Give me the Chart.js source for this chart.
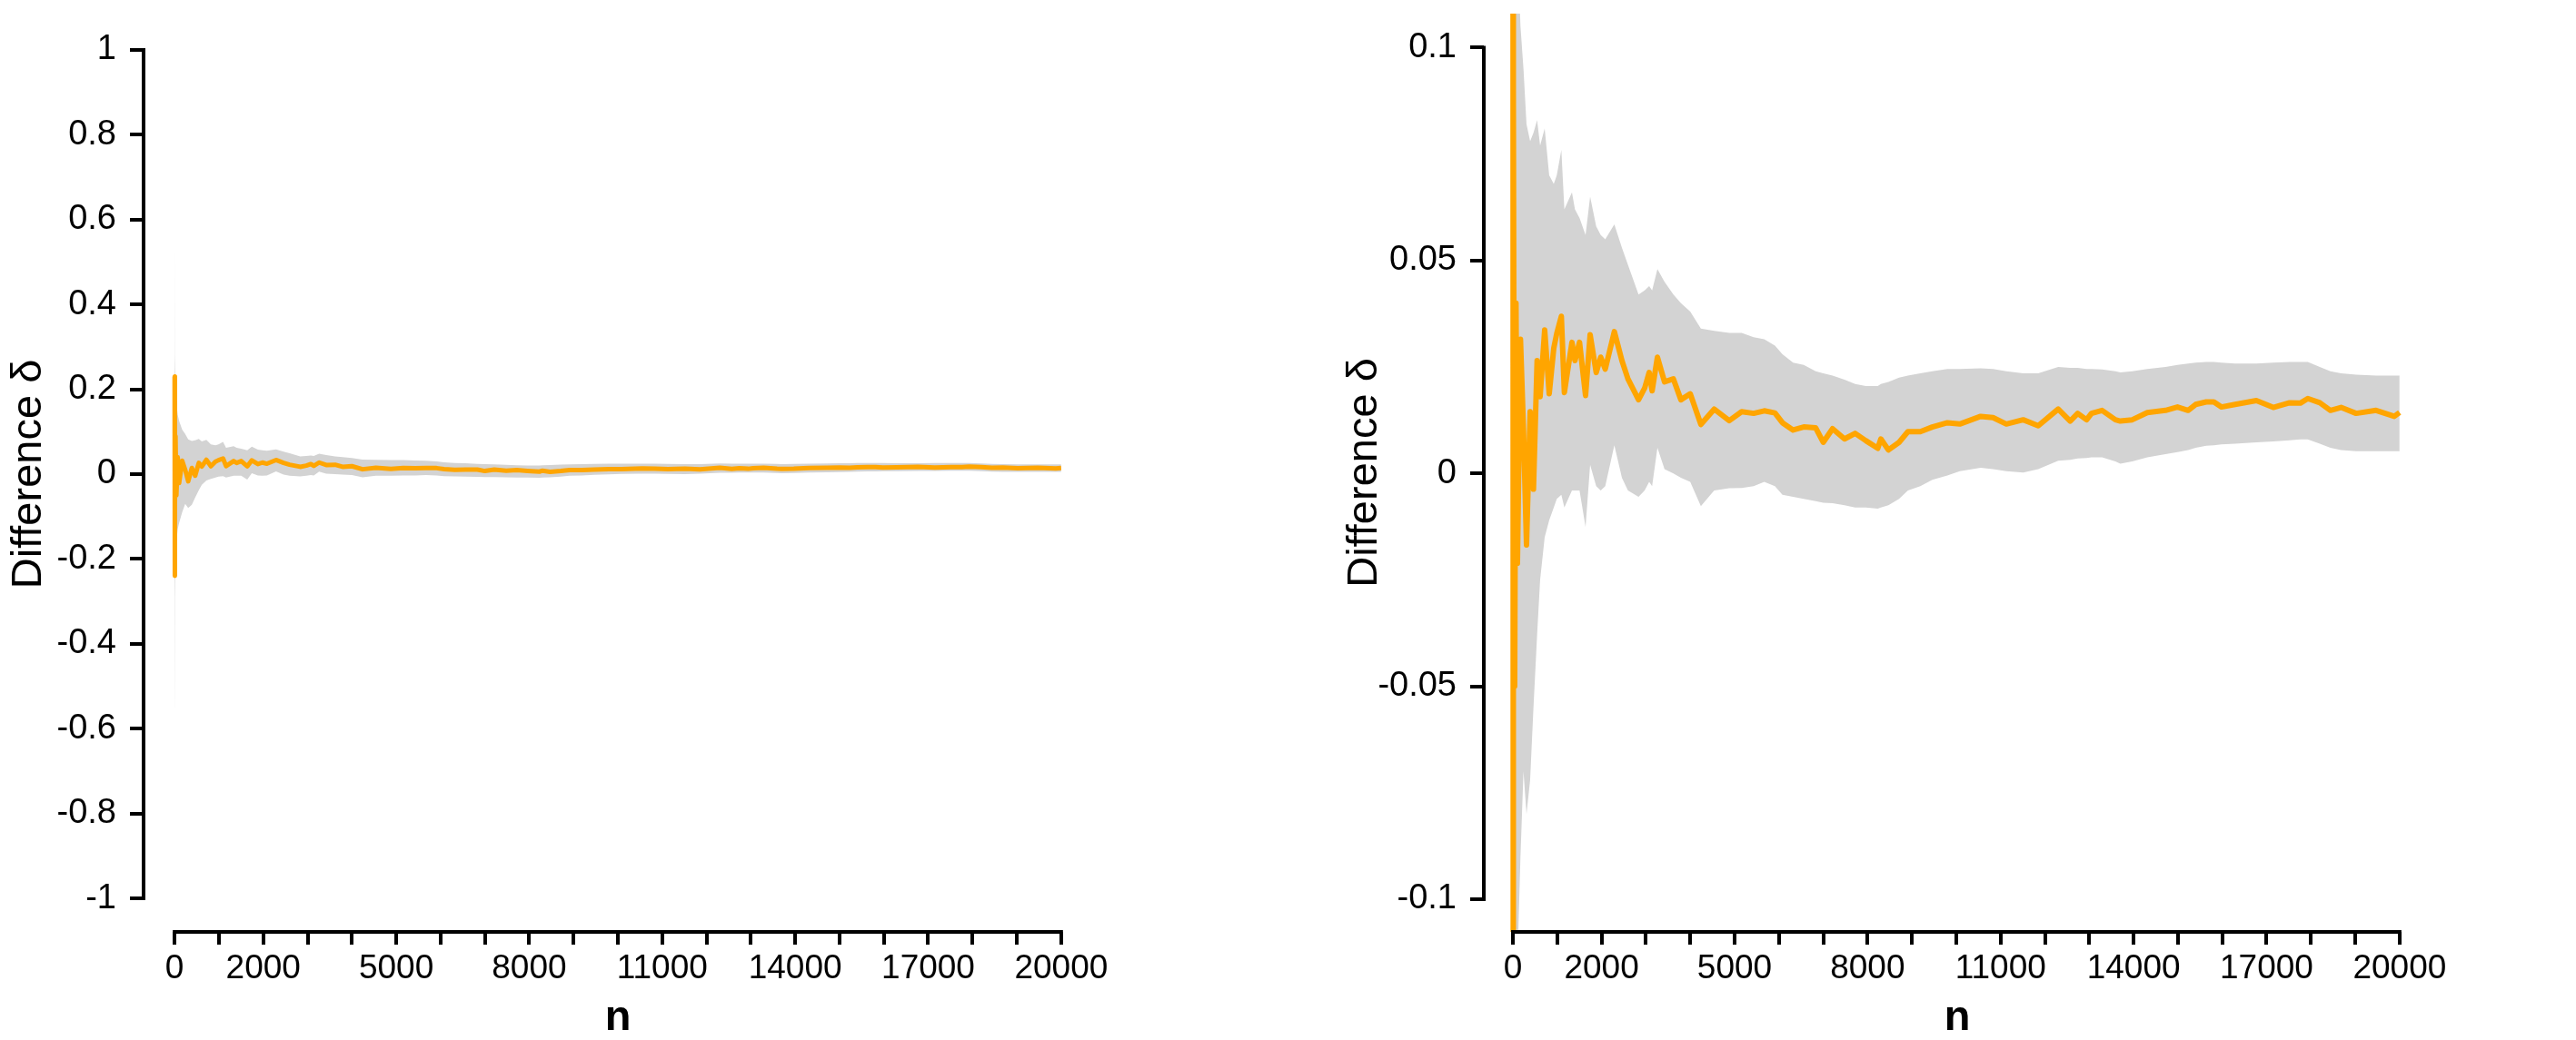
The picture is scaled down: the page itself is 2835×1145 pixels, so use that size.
<!DOCTYPE html>
<html>
<head>
<meta charset="utf-8">
<script src="https://cdn.jsdelivr.net/npm/chart.js@4/dist/chart.umd.min.js"></script>
<style>
  body { margin: 0; background: #fff; }
  canvas { position: absolute; top: 0; }
  #left { left: 0; }
  #right { left: 1417px; }
</style>
</head>
<body>
<canvas id="left" width="1417" height="1145"></canvas>
<canvas id="right" width="1418" height="1145"></canvas>
<script>
"use strict";

// sample size n
const nVals = [1, 3, 6, 10, 20, 40, 70, 102, 171, 239, 307, 389, 464, 546, 614, 717, 819, 922, 990, 1093,
  1161, 1332, 1400, 1503, 1639, 1742, 1879, 1981, 2083, 2288, 2459, 2595, 2834, 2971, 3074,
  3140, 3260, 3420, 3620, 3790, 4000, 4240, 4540, 4880, 5160, 5430, 5670, 5910, 6080, 6320, 6560, 6830,
  7000, 7210, 7480, 7720, 7960, 8230, 8300, 8470, 8710, 8910, 9190, 9460, 9800, 10080, 10550, 10830,
  11130, 11510, 11850, 12300, 12570, 12740, 12940, 13050, 13290, 13590, 13700, 13970, 14310, 14720,
  14990, 15230, 15400, 15640, 15810, 15980, 16290, 16770, 17150, 17520, 17760, 17930, 18200, 18440,
  18680, 19020, 19470, 19880, 20000];

// difference delta
const deltaVals = [0.23, -0.24, 0.12, -0.08, 0.09, -0.05, 0.04, -0.0211, 0.0315, 0.0102, -0.0168, 0.0145,
  -0.0037, 0.0265, 0.018, 0.0337, 0.0187, 0.0294, 0.0329, 0.0369, 0.019, 0.0308, 0.0265, 0.0308, 0.0183,
  0.0326, 0.0237, 0.0273, 0.0245, 0.0333, 0.0265, 0.0222, 0.0173, 0.02, 0.0237,
  0.0194, 0.0273, 0.0215, 0.0222, 0.0173, 0.0187, 0.0115, 0.0151, 0.0124, 0.0145, 0.0141, 0.0147, 0.0142,
  0.0119, 0.0102, 0.0109, 0.0107, 0.0073, 0.0105, 0.0081, 0.0094, 0.0077, 0.0059, 0.0081, 0.0055, 0.0073,
  0.0098, 0.0098, 0.0109, 0.0119, 0.0116, 0.0134, 0.0131, 0.0116, 0.0126, 0.0112, 0.0151, 0.0123, 0.0141,
  0.0126, 0.0141, 0.0148, 0.0126, 0.0123, 0.0126, 0.0143, 0.0148, 0.0156, 0.0148, 0.0162, 0.0168, 0.0168,
  0.0156, 0.0162, 0.0171, 0.0155, 0.0166, 0.0165, 0.0176, 0.0166, 0.0148, 0.0155, 0.0141, 0.0148, 0.0134,
  0.0143];

// upper bound of the grey band
const ciUpper = [0.56, 0.45, 0.35, 0.28, 0.22, 0.17, 0.14, 0.125, 0.105, 0.095, 0.082, 0.078, 0.08, 0.083,
  0.077, 0.081, 0.07, 0.068, 0.07, 0.076, 0.062, 0.066, 0.062, 0.06, 0.056, 0.065, 0.058, 0.056, 0.055,
  0.0585, 0.053, 0.049, 0.042, 0.043, 0.044,
  0.043, 0.048, 0.045, 0.042, 0.04, 0.038, 0.034, 0.0335, 0.033, 0.033, 0.032, 0.0315, 0.03, 0.028, 0.026,
  0.0255, 0.024, 0.0235, 0.023, 0.022, 0.021, 0.0205, 0.0205, 0.021, 0.0215, 0.0225, 0.023, 0.0235, 0.024,
  0.0245, 0.0245, 0.0247, 0.0245, 0.024, 0.0235, 0.0235, 0.025, 0.0248, 0.0248, 0.0245, 0.0245, 0.0244,
  0.024, 0.0237, 0.024, 0.0245, 0.025, 0.0255, 0.0258, 0.026, 0.0262, 0.0262, 0.026, 0.0258, 0.0258, 0.026,
  0.0262, 0.0262, 0.0262, 0.025, 0.024, 0.0235, 0.0232, 0.023, 0.023, 0.023];

// lower bound of the grey band
const ciLower = [-0.55, -0.45, -0.36, -0.29, -0.22, -0.16, -0.13, -0.115, -0.09, -0.07, -0.08, -0.072,
  -0.055, -0.038, -0.025, -0.015, -0.011, -0.008, -0.006, -0.005, -0.008, -0.004, -0.004, -0.004, -0.0126,
  0.002, -0.003, -0.004, -0.003, 0.0066, -0.001, -0.004, -0.0055, -0.004, -0.002,
  -0.003, 0.006, 0.001, 0.0, -0.001, -0.002, -0.0077, -0.004, -0.0035, -0.0034, -0.003, -0.002, -0.003,
  -0.005, -0.0055, -0.006, -0.0065, -0.0069, -0.007, -0.0075, -0.008, -0.008, -0.0083, -0.008, -0.0075,
  -0.006, -0.004, -0.003, -0.0015, -0.0005, 0.0005, 0.0013, 0.001, 0.0005, 0.0002, 0.001, 0.003, 0.0032,
  0.0035, 0.0036, 0.0038, 0.0038, 0.0028, 0.0023, 0.0028, 0.0038, 0.0045, 0.005, 0.0055, 0.006, 0.0065,
  0.0066, 0.0068, 0.007, 0.0073, 0.0075, 0.0078, 0.008, 0.008, 0.007, 0.006, 0.0055, 0.0052, 0.0052,
  0.0052, 0.0052];

// tick marks and labels
const xTicks = [0, 1000, 2000, 3000, 4000, 5000, 6000, 7000, 8000, 9000, 10000, 11000, 12000, 13000,
  14000, 15000, 16000, 17000, 18000, 19000, 20000];
const xLabelled = [0, 2000, 5000, 8000, 11000, 14000, 17000, 20000];
const yTicksFull = [-1, -0.8, -0.6, -0.4, -0.2, 0, 0.2, 0.4, 0.6, 0.8, 1];
const yTicksZoom = [-0.1, -0.05, 0, 0.05, 0.1];

const FONT = "'Liberation Sans', Arial, sans-serif";

const toPoints = (ys) => nVals.map((n, i) => ({ x: n, y: ys[i] }));

// R-style axis lines: only from first to last tick
const rAxes = {
  id: "rAxes",
  afterDraw(chart) {
    const { ctx, chartArea, scales } = chart;
    const xs = scales.x, ys = scales.y;
    const xt = xs.ticks, yt = ys.ticks;
    ctx.save();
    ctx.strokeStyle = "#000";
    ctx.lineWidth = 4;
    ctx.beginPath();
    ctx.moveTo(chartArea.left, ys.getPixelForValue(yt[0].value) + 2);
    ctx.lineTo(chartArea.left, ys.getPixelForValue(yt[yt.length - 1].value) - 2);
    ctx.moveTo(xs.getPixelForValue(xt[0].value) - 2, chartArea.bottom);
    ctx.lineTo(xs.getPixelForValue(xt[xt.length - 1].value) + 2, chartArea.bottom);
    ctx.stroke();
    ctx.restore();
  },
};

function makeChart(id, opts) {
  return new Chart(document.getElementById(id), {
    type: "line",
    data: {
      datasets: [
        {
          data: toPoints(deltaVals),
          borderColor: "#FFA500",
          borderWidth: opts.lineWidth,
          borderJoinStyle: "round",
          pointRadius: 0,
          fill: false,
        },
        {
          data: toPoints(ciUpper),
          borderWidth: 0,
          borderColor: "rgba(0,0,0,0)",
          backgroundColor: "#D3D3D3",
          pointRadius: 0,
          fill: "+1",
        },
        {
          data: toPoints(ciLower),
          borderWidth: 0,
          borderColor: "rgba(0,0,0,0)",
          pointRadius: 0,
          fill: false,
        },
      ],
    },
    options: {
      responsive: false,
      animation: false,
      devicePixelRatio: 1,
      layout: { padding: { top: opts.top, right: opts.right, bottom: 0, left: 0 } },
      plugins: { legend: { display: false }, tooltip: { enabled: false } },
      scales: {
        x: {
          type: "linear",
          min: opts.xMin,
          max: 20700,
          afterBuildTicks: (s) => { s.ticks = xTicks.map((v) => ({ value: v })); },
          afterFit: (s) => { s.height = 119; },
          border: { display: false },
          grid: { drawOnChartArea: false, drawTicks: true, tickLength: 14, color: "#000", lineWidth: 4 },
          ticks: {
            autoSkip: false,
            maxRotation: 0,
            padding: 5,
            color: "#000",
            font: { family: FONT, size: 37 },
            callback: (v) => (xLabelled.includes(v) ? String(v) : ""),
          },
          title: {
            display: true,
            text: "n",
            color: "#000",
            padding: 0,
            font: { family: FONT, size: 47, weight: "bold", lineHeight: 1 },
          },
        },
        y: {
          min: opts.yMin,
          max: opts.yMax,
          afterBuildTicks: (s) => { s.ticks = opts.yTicks.map((v) => ({ value: v })); },
          afterFit: (s) => {
            s.width = opts.yWidth;
            s.paddingTop = 0;
            s.paddingBottom = 0;
          },
          border: { display: false },
          grid: { drawOnChartArea: false, drawTicks: true, tickLength: 15, color: "#000", lineWidth: 4 },
          ticks: {
            padding: 15,
            color: "#000",
            font: { family: FONT, size: 38 },
            callback: (v) => String(Math.round(v * 1000) / 1000),
          },
          title: {
            display: true,
            text: "Difference δ",
            color: "#000",
            padding: { top: opts.titlePad, bottom: 0 },
            font: { family: FONT, size: 47, lineHeight: 1 },
          },
        },
      },
    },
    plugins: [rAxes],
  });
}

makeChart("left", {
  xMin: -700, yMin: -1.079, yMax: 1.079, yTicks: yTicksFull,
  top: 18, right: 215, yWidth: 158, titlePad: 9, lineWidth: 5,
});

makeChart("right", {
  xMin: -656, yMin: -0.1077, yMax: 0.108, yTicks: yTicksZoom,
  top: 15, right: 160, yWidth: 216, titlePad: 62, lineWidth: 6,
});
</script>
</body>
</html>
